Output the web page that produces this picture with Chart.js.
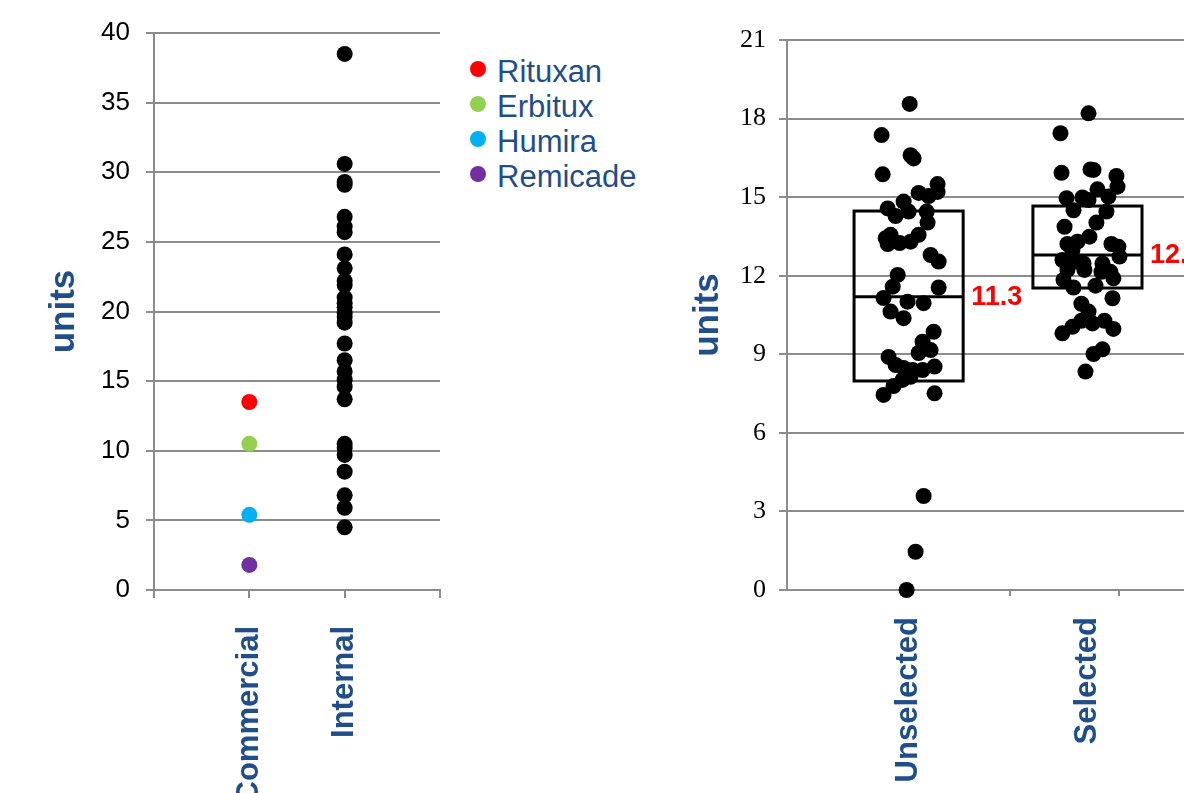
<!DOCTYPE html>
<html>
<head>
<meta charset="utf-8">
<script src="https://cdn.jsdelivr.net/npm/chart.js@4.4.0/dist/chart.umd.min.js"></script>
<style>
html, body { margin: 0; padding: 0; background: #fff; overflow: hidden; width: 1184px; height: 793px; }
#left { position: absolute; left: 0; top: 0; }
#right { position: absolute; left: 650px; top: 0; }
#legend { position: absolute; left: 470px; top: 54px; font-family: "Liberation Sans", Arial, sans-serif; font-size: 31px; color: #1F4E89; }
#legend div { position: relative; height: 35px; line-height: 35px; padding-left: 27px; white-space: nowrap; }
#legend span { position: absolute; left: 0; top: 7px; width: 16px; height: 16px; border-radius: 50%; }
</style>
</head>
<body>
<canvas id="left" width="460" height="793"></canvas>
<canvas id="right" width="612" height="793"></canvas>
<div id="legend"></div>
<script>
// ---- left panel data
const leftGroups = ['Commercial', 'Internal'];
const commercialNames = ['Rituxan', 'Erbitux', 'Humira', 'Remicade'];
const commercialValues = [13.5, 10.5, 5.4, 1.8];
const internalValues = [38.5, 30.6, 29.3, 29.1, 26.8, 26.1, 25.7, 24.1, 23.1, 22.2, 21.9, 21.0,
    20.6, 20.3, 19.9, 19.6, 19.2, 17.7, 16.5, 15.7, 15.1, 14.6, 13.7, 10.5, 10.2, 9.7, 8.5, 6.8, 5.9, 4.5];

// ---- right panel data (x = jittered group position, y = value)
const rightGroups = ['Unselected', 'Selected'];
const unselectedX = [1.006, 0.849, 1.028, 1.011, 0.855, 1.162, 1.162, 1.112, 1.056, 0.972, 0.883, 0.927,
    1.0, 1.101, 1.106, 0.872, 0.899, 0.883, 0.95, 1.011, 1.056, 1.123, 1.168, 0.939, 0.911, 1.168, 0.86,
    0.994, 1.084, 0.899, 0.972, 1.14, 1.078, 1.123, 1.056, 0.888, 0.927, 0.972, 1.022, 1.078, 1.145,
    1.011, 0.966, 0.916, 0.86, 1.145, 1.084, 1.039, 0.989];
const unselectedY = [18.56, 17.37, 16.48, 16.6, 15.87, 15.5, 15.2, 15.04, 15.16, 14.83, 14.57, 14.28,
    14.45, 14.45, 14.03, 13.43, 13.56, 13.21, 13.25, 13.3, 13.56, 12.79, 12.54, 12.03, 11.58, 11.55, 11.15,
    11.01, 10.95, 10.63, 10.38, 9.86, 9.48, 9.16, 9.05, 8.9, 8.59, 8.48, 8.4, 8.4, 8.53,
    8.14, 8.02, 7.79, 7.45, 7.51, 3.59, 1.46, 0.0];
const selectedX = [2.006, 1.849, 1.855, 2.017, 2.034, 2.162, 2.168, 2.056, 2.117, 1.972, 2.006, 1.883,
    1.922, 2.106, 2.05, 1.872, 2.011, 1.944, 1.888, 2.134, 2.173, 2.179, 1.916, 1.86, 1.933, 1.978, 2.084,
    2.128, 1.888, 1.983, 2.078, 2.145, 1.866, 1.922, 2.045, 2.14, 1.966, 2.006, 1.966, 2.028, 2.095,
    1.916, 2.145, 1.86, 2.084, 2.034, 1.989];
const selectedY = [18.2, 17.44, 15.93, 16.06, 16.04, 15.81, 15.4, 15.3, 15.02, 14.99, 14.89, 14.96,
    14.5, 14.45, 14.03, 13.87, 13.49, 13.3, 13.21, 13.21, 13.11, 12.73, 12.98, 12.6, 12.54, 12.47, 12.47,
    12.15, 12.22, 12.22, 12.15, 11.9, 11.84, 11.55, 11.62, 11.14, 10.93, 10.63, 10.28, 10.18, 10.28,
    10.05, 9.97, 9.8, 9.19, 9.01, 8.34];

// box summaries
const boxQ1 = [7.98, 11.53];
const boxMedian = [11.2, 12.79];
const boxQ3 = [14.47, 14.66];
const medianLabels = ['11.3', '12.8'];

// styles
const drugColors = ['#ff0000', '#92d050', '#00b0f0', '#7030a0'];
const navy = '#1F4E89';
const gridGray = '#8c8c8c';
const sans = '"Liberation Sans", Arial, sans-serif';
const serif = '"Liberation Serif", "Times New Roman", serif';
const boxHalf = 0.305;

function dots(xs, ys, color) {
    return {
        data: xs.map((x, i) => ({ x: x, y: ys[i] })),
        backgroundColor: color,
        borderColor: color,
        pointRadius: 8,
        pointHoverRadius: 8,
        borderWidth: 0,
        clip: false
    };
}

// fixed axis band, no label overflow padding
function fixX(s) {
    s.height = 203;
    s.paddingLeft = 0;
    s.paddingRight = 0;
}

// legend
document.getElementById('legend').innerHTML = commercialNames.map((n, i) =>
    `<div><span style="background:${drugColors[i]}"></span>${n}</div>`).join('');

// LEFT
const leftSets = commercialNames.map((n, i) => dots([1], [commercialValues[i]], drugColors[i]));
leftSets.push(dots(internalValues.map(() => 2), internalValues, '#000'));

new Chart(document.getElementById('left'), {
    type: 'scatter',
    data: { datasets: leftSets },
    options: {
        responsive: false,
        animation: false,
        layout: { padding: { top: 33, right: 20, left: 0, bottom: 0 } },
        plugins: { legend: { display: false }, tooltip: { enabled: false } },
        scales: {
            x: {
                type: 'linear', min: 0, max: 3,
                afterBuildTicks: s => { s.ticks = [0, 1, 2, 3].map(v => ({ value: v })); },
                afterFit: fixX,
                grid: { drawOnChartArea: false, color: gridGray, lineWidth: 2, tickLength: 8 },
                border: { color: gridGray, width: 2 },
                ticks: {
                    autoSkip: false, minRotation: 90, maxRotation: 90, padding: 28,
                    color: navy, font: { family: sans, size: 31, weight: 'bold' },
                    callback: v => leftGroups[v - 1] || ''
                }
            },
            y: {
                min: 0, max: 40,
                afterFit: s => { s.width = 154; },
                grid: { color: gridGray, lineWidth: 2, tickLength: 8 },
                border: { color: gridGray, width: 2 },
                ticks: { stepSize: 5, padding: 16, color: '#000', font: { family: sans, size: 26 } },
                title: {
                    display: true, text: 'units', color: navy,
                    font: { family: sans, size: 35, weight: 'bold' },
                    padding: { top: 43, bottom: 0 }
                }
            }
        }
    }
});

// RIGHT
const boxPlugin = {
    id: 'boxes',
    beforeDatasetsDraw(chart) {
        const { ctx, scales: { x, y } } = chart;
        ctx.save();
        ctx.strokeStyle = '#000';
        ctx.lineWidth = 3;
        boxQ1.forEach((q1, i) => {
            const c = i + 1;
            const x0 = x.getPixelForValue(c - boxHalf);
            const x1 = x.getPixelForValue(c + boxHalf);
            const yTop = y.getPixelForValue(boxQ3[i]);
            const yBot = y.getPixelForValue(q1);
            const yMed = y.getPixelForValue(boxMedian[i]);
            ctx.strokeRect(x0, yTop, x1 - x0, yBot - yTop);
            ctx.beginPath();
            ctx.moveTo(x0, yMed);
            ctx.lineTo(x1, yMed);
            ctx.stroke();
        });
        ctx.restore();
    },
    afterDatasetsDraw(chart) {
        const { ctx, scales: { x, y } } = chart;
        ctx.save();
        ctx.fillStyle = '#ff0000';
        ctx.font = 'bold 27px ' + sans;
        ctx.textAlign = 'left';
        ctx.textBaseline = 'middle';
        medianLabels.forEach((t, i) => {
            ctx.fillText(t, x.getPixelForValue(i + 1 + boxHalf) + 8, y.getPixelForValue(boxMedian[i]) + 1);
        });
        ctx.restore();
    }
};

new Chart(document.getElementById('right'), {
    type: 'scatter',
    data: { datasets: [dots(unselectedX, unselectedY, '#000'), dots(selectedX, selectedY, '#000')] },
    options: {
        responsive: false,
        animation: false,
        layout: { padding: { top: 40, right: 10, left: 0, bottom: 0 } },
        plugins: { legend: { display: false }, tooltip: { enabled: false } },
        scales: {
            x: {
                type: 'linear', min: 0.32, max: 2.92,
                afterBuildTicks: s => { s.ticks = [0.955, 1, 1.565, 2, 2.175, 2.785].map(v => ({ value: v })); },
                afterFit: fixX,
                grid: {
                    drawOnChartArea: false, lineWidth: 2, tickLength: 6, color: gridGray,
                    tickColor: c => (c.tick && (c.tick.value === 1 || c.tick.value === 2)) ? 'rgba(0,0,0,0)' : gridGray
                },
                border: { color: gridGray, width: 2 },
                ticks: {
                    autoSkip: false, minRotation: 90, maxRotation: 90, padding: 21,
                    color: navy, font: { family: sans, size: 31, weight: 'bold' },
                    callback: v => (v === 1 || v === 2) ? rightGroups[v - 1] : ''
                }
            },
            y: {
                min: 0, max: 21,
                afterFit: s => { s.width = 137; },
                grid: { color: gridGray, lineWidth: 2, tickLength: 8 },
                border: { color: gridGray, width: 2 },
                ticks: { stepSize: 3, padding: 13, color: '#000', font: { family: serif, size: 26 } },
                title: {
                    display: true, text: 'units', color: navy,
                    font: { family: sans, size: 35, weight: 'bold' },
                    padding: { top: 37, bottom: 0 }
                }
            }
        }
    },
    plugins: [boxPlugin]
});
</script>
</body>
</html>
